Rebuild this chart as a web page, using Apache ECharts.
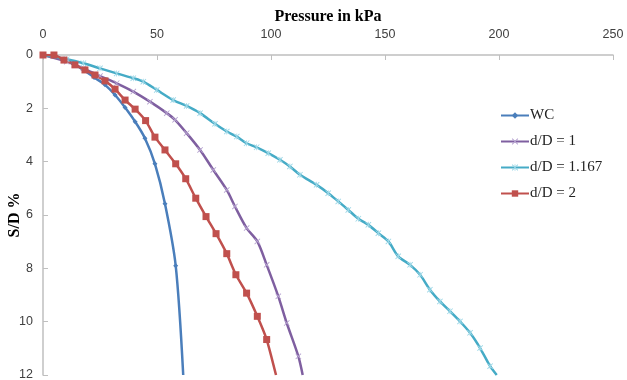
<!DOCTYPE html>
<html>
<head>
<meta charset="utf-8">
<script src="https://cdn.jsdelivr.net/npm/echarts@6/dist/echarts.min.js"></script>
<style>
  html, body { margin: 0; padding: 0; background: #fff; }
  #myChart { width: 627px; height: 380px; }
</style>
</head>
<body>
<div id="myChart"></div>
<script>
// pressure (kPa) and S/D (%)
var wcP = [0, 4.4, 8.8, 13.2, 17.6, 22.4, 27.2, 31.6, 36.0, 40.4, 44.7, 49.1, 53.5, 58.2, 61.5];
var wcS = [0, 0.02, 0.15, 0.32, 0.55, 0.84, 1.12, 1.50, 1.97, 2.50, 3.12, 4.08, 5.58, 7.90, 12.0];

var d1P = [0, 10.4, 17.7, 25.0, 32.3, 39.6, 46.9, 54.3, 57.9, 63.0, 68.9, 74.7, 80.6, 84.2, 89.3, 94.0, 98.1, 103.2, 106.9, 112.0, 113.9];
var d1S = [0, 0.25, 0.50, 0.79, 1.06, 1.37, 1.75, 2.18, 2.43, 2.93, 3.56, 4.31, 5.06, 5.68, 6.49, 6.99, 7.87, 9.05, 10.05, 11.30, 12.0];

var d1167P = [0, 10.4, 17.7, 25.0, 32.3, 39.6, 44.0, 49.9, 57.1, 63.0, 68.9, 75.4, 80.6, 85.0, 89.3, 93.7, 98.8, 103.9, 108.3, 112.7, 120.0, 125.1, 129.5, 133.9, 138.3, 142.7, 147.1, 151.5, 155.8, 161.0, 165.4, 169.7, 174.1, 178.5, 182.9, 187.3, 191.7, 196.1, 199.0];
var d1167S = [0, 0.16, 0.31, 0.50, 0.69, 0.87, 1.00, 1.31, 1.69, 1.91, 2.18, 2.58, 2.87, 3.06, 3.31, 3.46, 3.68, 3.93, 4.18, 4.49, 4.87, 5.18, 5.49, 5.81, 6.14, 6.37, 6.68, 6.99, 7.55, 7.87, 8.24, 8.80, 9.24, 9.61, 9.99, 10.42, 10.99, 11.67, 12.0];

var d2P = [0, 4.8, 9.2, 14.0, 18.4, 22.8, 27.2, 31.6, 36.0, 40.4, 45.0, 49.1, 53.5, 58.2, 62.6, 67.0, 71.5, 75.9, 80.6, 84.6, 89.3, 94.0, 98.1, 102.2];
var d2S = [0, 0, 0.19, 0.37, 0.56, 0.75, 0.97, 1.28, 1.69, 2.03, 2.46, 3.08, 3.56, 4.08, 4.64, 5.37, 6.06, 6.70, 7.45, 8.24, 8.93, 9.80, 10.67, 12.0];

var seriesNames = ['WC', 'd/D = 1', 'd/D = 1.167', 'd/D = 2'];
var xTicks = [0, 50, 100, 150, 200, 250];
var yTicks = [0, 2, 4, 6, 8, 10, 12];

// pairs up the values; the last point sits on the plot edge, so no marker there
function zip(a, b) {
  return a.map(function (v, i) {
    if (i === a.length - 1) return { value: [v, b[i]], symbol: 'none' };
    return [v, b[i]];
  });
}

// marker shapes
var crossPath = 'path://M0,1L1,0L5,4L9,0L10,1L6,5L10,9L9,10L5,6L1,10L0,9L4,5Z';
var starPath = 'path://M0,1L1,0L5,4L9,0L10,1L6,5L10,9L9,10L5,6L1,10L0,9L4,5Z M4.4,0L5.6,0L5.6,10L4.4,10Z';

var chart = echarts.init(document.getElementById('myChart'));
chart.setOption({
  animation: false,
  grid: { left: 43, top: 55, right: 14, bottom: 5, outerBoundsMode: 'none', containLabel: false },
  legend: {
    orient: 'vertical',
    left: 495,
    top: 103,
    itemGap: 11,
    itemWidth: 28,
    itemHeight: 8,
    data: seriesNames,
    textStyle: { fontFamily: 'Liberation Serif', fontSize: 15, color: '#222', padding: [0, 0, 0, -4] }
  },
  xAxis: {
    type: 'value',
    position: 'top',
    min: xTicks[0],
    max: xTicks[xTicks.length - 1],
    interval: 50,
    name: 'Pressure in kPa',
    nameLocation: 'middle',
    nameGap: 30,
    nameMoveOverlap: false,
    nameTextStyle: { fontFamily: 'Liberation Serif', fontSize: 16, fontWeight: 'bold', color: '#000' },
    axisLine: { lineStyle: { color: '#bfbfbf', width: 1.5 } },
    axisTick: { inside: true, length: 5, lineStyle: { color: '#bfbfbf' } },
    axisLabel: { margin: 14, fontFamily: 'Liberation Sans', fontSize: 12.5, color: '#404040' },
    splitLine: { show: false }
  },
  yAxis: {
    type: 'value',
    inverse: true,
    min: yTicks[0],
    max: yTicks[yTicks.length - 1],
    interval: 2,
    name: 'S/D %',
    nameLocation: 'middle',
    nameGap: 20,
    nameMoveOverlap: false,
    nameTextStyle: { fontFamily: 'Liberation Serif', fontSize: 16, fontWeight: 'bold', color: '#000' },
    axisLine: { show: true, lineStyle: { color: '#bfbfbf', width: 1.5 } },
    axisTick: { show: true, inside: true, length: 5, lineStyle: { color: '#bfbfbf' } },
    axisLabel: { margin: 10, fontFamily: 'Liberation Sans', fontSize: 12.5, color: '#404040' },
    splitLine: { show: false }
  },
  series: [
    {
      name: seriesNames[0],
      type: 'line',
      smooth: 0.3,
      data: zip(wcP, wcS),
      symbol: 'diamond',
      symbolSize: 5,
      lineStyle: { width: 2.5, color: '#4a7ebb' },
      itemStyle: { color: '#4a7ebb' }
    },
    {
      name: seriesNames[1],
      type: 'line',
      smooth: 0.3,
      data: zip(d1P, d1S),
      symbol: crossPath,
      symbolSize: 6,
      lineStyle: { width: 2.5, color: '#7f5fa0' },
      itemStyle: { color: '#b6a3d0' }
    },
    {
      name: seriesNames[2],
      type: 'line',
      smooth: 0.3,
      data: zip(d1167P, d1167S),
      symbol: starPath,
      symbolSize: 6,
      lineStyle: { width: 2.5, color: '#45abc6' },
      itemStyle: { color: '#9ad6e6' }
    },
    {
      name: seriesNames[3],
      type: 'line',
      smooth: 0.2,
      data: zip(d2P, d2S),
      symbol: 'rect',
      symbolSize: 7,
      lineStyle: { width: 2.5, color: '#c0504d' },
      itemStyle: { color: '#c0504d' }
    }
  ]
});
</script>
</body>
</html>
